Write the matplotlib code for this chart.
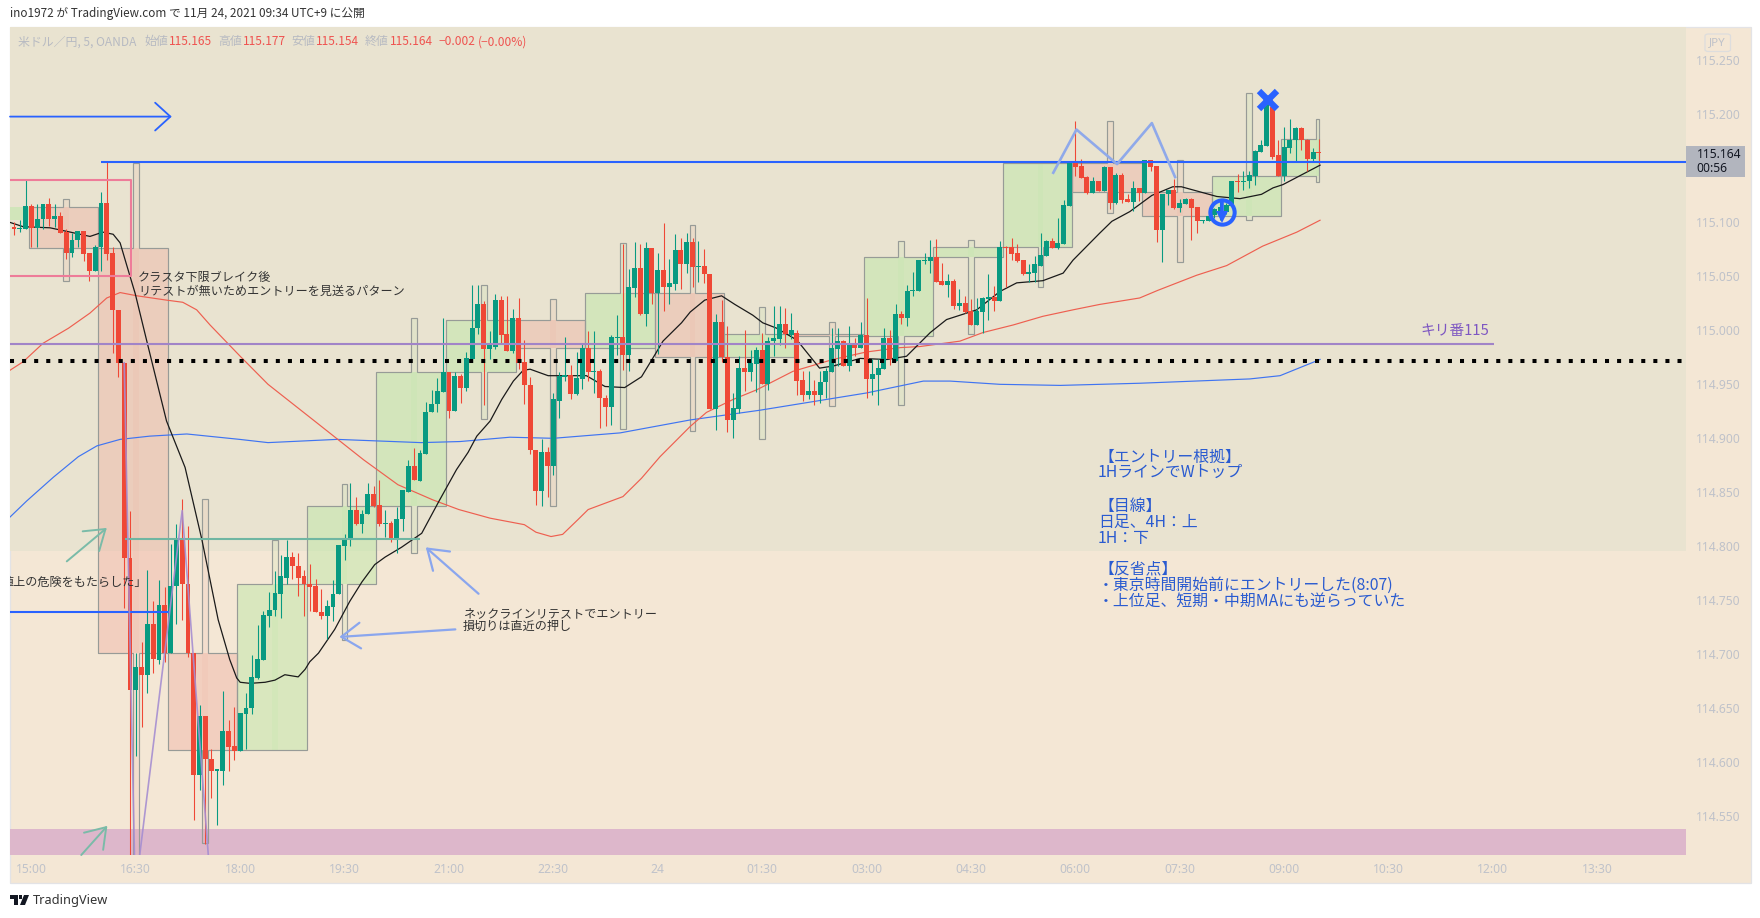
import matplotlib
matplotlib.use("Agg")
import matplotlib.pyplot as plt
from matplotlib.patches import Polygon, Rectangle, FancyBboxPatch

plt.rcParams['font.family'] = ['Noto Sans CJK JP', 'DejaVu Sans']

first_bar = -3
opens = [115.096,115.094,115.094,115.115,115.095,115.103,115.117,115.103,115.106,115.091,
115.072,115.084,115.092,115.072,115.055,115.077,115.118,115.072,115.019,114.970,
114.789,114.667,114.688,114.681,114.728,114.695,114.746,114.701,114.763,114.807,
114.765,114.701,114.588,114.643,114.603,114.592,114.592,114.629,114.615,114.610,
114.645,114.650,114.678,114.695,114.735,114.741,114.756,114.771,114.790,114.782,
114.772,114.765,114.763,114.739,114.735,114.744,114.756,114.800,114.807,114.834,
114.821,114.830,114.848,114.838,114.821,114.822,114.807,114.825,114.850,114.874,
114.860,114.885,114.924,114.932,114.943,114.961,114.925,114.958,114.947,114.973,
115.002,115.024,114.983,114.985,115.028,114.997,114.981,115.011,114.971,114.949,
114.889,114.851,114.887,114.874,114.935,114.957,114.959,114.941,114.955,114.984,
114.961,114.962,114.937,114.929,114.993,114.994,114.977,115.039,115.058,115.015,
115.076,115.035,115.056,115.040,115.043,115.074,115.061,115.082,115.059,115.060,
115.052,114.927,115.008,114.975,114.917,114.927,114.965,114.961,114.969,114.982,
114.950,114.990,114.992,115.006,114.996,114.998,114.954,114.940,114.944,114.940,
114.952,114.961,114.983,114.990,114.967,114.986,114.984,114.996,114.955,114.959,
114.964,114.993,114.972,115.015,115.011,115.036,115.036,115.064,115.064,115.068,
115.046,115.042,115.046,115.023,115.025,115.018,115.005,115.017,115.029,115.031,
115.027,115.077,115.077,115.072,115.065,115.052,115.053,115.060,115.069,115.083,
115.076,115.080,115.115,115.155,115.152,115.142,115.127,115.138,115.129,115.151,
115.118,115.144,115.122,115.119,115.132,115.127,115.158,115.152,115.093,115.126,
115.130,115.113,115.117,115.122,115.114,115.101,115.101,115.107,115.107,115.110,
115.115,115.138,115.137,115.138,115.143,115.165,115.171,115.207,115.162,115.143,
115.169,115.176,115.187,115.176,115.159,115.165]
closes = [115.094,115.095,115.115,115.095,115.103,115.117,115.103,115.106,115.090,115.072,
115.084,115.092,115.071,115.055,115.077,115.118,115.071,115.019,114.970,114.789,
114.667,114.688,114.681,114.728,114.696,114.746,114.701,114.763,114.807,114.765,
114.701,114.588,114.643,114.603,114.592,114.594,114.629,114.614,114.610,114.646,
114.650,114.679,114.696,114.736,114.741,114.757,114.772,114.790,114.782,114.771,
114.765,114.762,114.739,114.735,114.745,114.756,114.801,114.808,114.834,114.821,
114.830,114.848,114.837,114.821,114.822,114.807,114.825,114.852,114.874,114.861,
114.886,114.924,114.932,114.944,114.961,114.925,114.958,114.947,114.974,115.002,
115.024,114.983,114.986,115.028,114.996,114.981,115.011,114.970,114.949,114.889,
114.851,114.887,114.874,114.936,114.958,114.959,114.941,114.956,114.984,114.961,
114.962,114.937,114.929,114.994,114.994,114.977,115.040,115.058,115.015,115.076,
115.035,115.056,115.040,115.044,115.074,115.061,115.082,115.059,115.060,115.052,
114.927,115.008,114.975,114.917,114.928,114.965,114.961,114.970,114.982,114.950,
114.990,114.993,115.006,114.997,115.000,114.953,114.940,114.944,114.940,114.952,
114.962,114.984,114.990,114.967,114.986,114.984,114.996,114.955,114.960,114.965,
114.993,114.973,115.015,115.011,115.036,115.037,115.065,115.065,115.068,115.045,
115.042,115.046,115.023,115.025,115.017,115.005,115.018,115.030,115.031,115.027,
115.077,115.076,115.071,115.064,115.052,115.054,115.061,115.070,115.083,115.076,
115.081,115.116,115.155,115.151,115.141,115.127,115.138,115.129,115.151,115.118,
115.144,115.121,115.119,115.132,115.127,115.158,115.151,115.093,115.126,115.130,
115.113,115.118,115.122,115.113,115.101,115.102,115.106,115.112,115.114,115.116,
115.138,115.137,115.138,115.144,115.166,115.172,115.213,115.161,115.143,115.170,
115.176,115.187,115.176,115.159,115.165,115.164]
highs = [115.100,115.102,115.139,115.117,115.117,115.117,115.123,115.117,115.110,115.094,
115.090,115.092,115.092,115.072,115.079,115.128,115.156,115.077,115.019,114.970,
114.833,114.701,114.711,114.778,114.749,114.769,114.762,114.802,114.821,114.844,
114.819,114.701,114.653,114.643,114.612,114.594,114.666,114.639,114.651,114.646,
114.664,114.699,114.727,114.740,114.758,114.777,114.792,114.806,114.795,114.794,
114.778,114.784,114.770,114.760,114.750,114.769,114.801,114.811,114.859,114.846,
114.834,114.859,114.856,114.861,114.834,114.823,114.836,114.852,114.880,114.891,
114.889,114.934,114.945,114.956,115.011,114.961,114.961,114.960,114.980,115.042,
115.042,115.027,114.999,115.034,115.032,115.032,115.020,115.030,114.991,114.957,
114.889,114.899,114.892,114.942,114.961,114.994,114.968,114.980,114.987,114.999,
114.999,114.964,114.940,114.996,115.014,115.080,115.057,115.082,115.080,115.082,
115.076,115.072,115.099,115.066,115.089,115.086,115.090,115.086,115.083,115.075,
115.052,115.015,115.028,115.004,114.942,114.976,115.000,114.982,114.985,114.998,
114.994,115.023,115.023,115.021,115.016,115.000,114.962,114.962,114.954,114.962,
114.965,115.002,115.002,114.991,115.004,114.993,115.008,115.030,114.973,114.973,
115.002,115.000,115.024,115.018,115.042,115.054,115.065,115.072,115.084,115.085,
115.062,115.052,115.048,115.038,115.032,115.029,115.030,115.031,115.052,115.041,
115.083,115.078,115.086,115.080,115.065,115.061,115.069,115.090,115.084,115.086,
115.104,115.121,115.155,115.194,115.159,115.143,115.142,115.138,115.152,115.151,
115.146,115.146,115.126,115.138,115.132,115.158,115.158,115.152,115.126,115.130,
115.140,115.122,115.123,115.123,115.114,115.102,115.109,115.113,115.121,115.118,
115.138,115.145,115.148,115.148,115.167,115.176,115.217,115.213,115.176,115.188,
115.196,115.188,115.188,115.177,115.169,115.177]
lows = [115.088,115.091,115.094,115.077,115.077,115.094,115.097,115.096,115.090,115.066,
115.068,115.077,115.064,115.046,115.055,115.055,115.065,114.979,114.957,114.743,
114.470,114.606,114.633,114.664,114.683,114.691,114.693,114.701,114.728,114.732,
114.697,114.546,114.574,114.524,114.567,114.542,114.579,114.592,114.602,114.610,
114.612,114.645,114.677,114.695,114.725,114.735,114.734,114.765,114.770,114.754,
114.735,114.740,114.739,114.733,114.714,114.731,114.756,114.787,114.800,114.820,
114.812,114.830,114.836,114.819,114.809,114.804,114.794,114.814,114.850,114.861,
114.860,114.885,114.924,114.924,114.943,114.919,114.925,114.933,114.944,114.971,
114.997,114.931,114.973,114.983,114.987,114.981,114.979,114.964,114.932,114.885,
114.838,114.837,114.846,114.866,114.919,114.953,114.936,114.940,114.946,114.953,
114.942,114.910,114.911,114.912,114.977,114.963,114.962,115.031,115.014,115.004,
115.024,114.978,115.018,115.024,115.037,115.038,115.053,115.040,115.045,115.044,
114.927,114.908,114.971,114.906,114.900,114.923,114.944,114.953,114.943,114.950,
114.945,114.976,114.986,114.984,114.992,114.940,114.935,114.936,114.931,114.933,
114.937,114.961,114.967,114.967,114.962,114.976,114.984,114.937,114.940,114.931,
114.964,114.968,114.972,115.006,115.004,115.032,115.036,115.061,115.053,115.045,
115.042,115.031,115.020,115.019,115.016,115.005,115.005,114.998,115.010,115.018,
115.027,115.040,115.065,115.063,115.051,115.045,115.045,115.060,115.069,115.076,
115.075,115.080,115.115,115.143,115.141,115.126,115.127,115.129,115.129,115.112,
115.117,115.118,115.119,115.111,115.120,115.127,115.148,115.082,115.063,115.116,
115.112,115.110,115.117,115.084,115.090,115.099,115.101,115.104,115.102,115.108,
115.115,115.128,115.130,115.132,115.135,115.165,115.171,115.159,115.143,115.138,
115.164,115.157,115.167,115.148,115.156,115.154]

ma_black_x = [-3.7,-1.4,3.2,6.7,10.1,12.3,14.1,15.3,16.4,17.9,19.9,21,23.3,26.5,29.4,32.2,34.2,35.4,36,37.7,40.3,42,43.7,46,47.2,48,49.5,52.3,54.9,57,59.2,61,63.8,67.3,70.2,73.3,75.3,76.8,79.1,81.1,83.1,84.8,86,89.1,92.9,95.7,98.9,102.3,105.2,107.8,108.9,112.1,113.6,116.1,119,121.3,124.4,126.1,128.5,132,135.9,138.3,142.9,147.5,150.9,155,157.8,163,167,169.9,174.4,177.9,179.6,184.2,186.3,189.4,193.2,196.8,198.3,204.4,208.4,212.1,214.1,215.8,222.2]
ma_black_y = [115.100,115.096,115.095,115.091,115.087,115.091,115.089,115.081,115.061,115.034,114.990,114.966,114.916,114.873,114.806,114.732,114.695,114.678,114.674,114.673,114.674,114.676,114.681,114.679,114.686,114.693,114.701,114.723,114.749,114.767,114.783,114.790,114.799,114.812,114.841,114.871,114.887,114.902,114.916,114.936,114.953,114.963,114.964,114.958,114.958,114.958,114.948,114.947,114.957,114.980,114.990,115.007,115.017,115.028,115.032,115.024,115.014,115.007,115.002,114.991,114.965,114.967,114.974,114.973,114.976,114.998,115.010,115.019,115.036,115.044,115.046,115.053,115.065,115.090,115.101,115.110,115.125,115.133,115.133,115.124,115.122,115.126,115.132,115.135,115.153]
ma_red_x = [-3.7,-1.4,2,6.4,10.1,13,15.3,18.2,23.3,26.1,28.5,30.8,36,40.8,49.3,57.3,63.2,69.2,73.7,79.1,85,87,89.6,91.6,94.3,96,102,105.2,108.4,113.6,116.4,121,125.1,131.3,138.2,144,149.8,153.2,160.1,164.1,169.3,174.4,179.6,184.2,191.1,194.2,200.9,206.1,212.3,218.2,222.2]
ma_red_y = [114.963,114.971,114.988,115.002,115.016,115.030,115.035,115.032,115.028,115.026,115.019,115.005,114.976,114.950,114.914,114.880,114.857,114.843,114.834,114.826,114.820,114.813,114.809,114.811,114.825,114.834,114.846,114.863,114.883,114.911,114.924,114.936,114.945,114.962,114.973,114.980,114.984,114.985,114.990,114.998,115.005,115.013,115.019,115.024,115.030,115.037,115.051,115.060,115.078,115.091,115.102]
ma_blue_x = [-3.7,-0.8,3.8,8.1,11.3,15.3,20.4,26.8,35.9,40.8,52.7,67.2,73.9,82.5,90,101.5,113.6,125.6,144,153.8,158.4,167,177.4,191.1,210.1,215.3,222.2]
ma_blue_y = [114.827,114.842,114.864,114.883,114.893,114.899,114.902,114.904,114.899,114.896,114.899,114.896,114.897,114.901,114.900,114.905,114.917,114.926,114.942,114.953,114.953,114.950,114.949,114.951,114.955,114.958,114.973]

cl_left = [-0.5,11.5,23.5,35.5,47.5,59.5,71.5,83.5,95.5,107.5,119.5,131.5,143.5,155.5,167.5,179.5,191.5,203.5,215.5]
cl_right = [11.5,23.5,35.5,47.5,59.5,71.5,83.5,95.5,107.5,119.5,131.5,143.5,155.5,167.5,179.5,191.5,203.5,215.5,222]
cl_spike = [6,18,30,42,54,66,78,90,102,114,126,138,150,162,174,186,198,210,222]
cl_top = [115.114,115.076,114.701,114.765,114.837,114.961,115.010,115.010,115.035,115.035,114.997,114.997,115.068,115.077,115.155,115.155,115.128,115.143,115.177]
cl_bot = [115.076,114.701,114.611,114.611,114.765,114.837,114.961,114.984,114.984,114.975,114.975,114.995,114.995,115.068,115.077,115.128,115.106,115.106,115.143]
cl_up = [115.122,115.155,114.844,114.806,114.858,115.011,115.042,115.029,115.081,115.098,115.022,115.008,115.083,115.084,115.155,115.194,115.158,115.220,115.196]
cl_dn = [115.046,114.400,114.525,114.611,114.713,114.794,114.918,114.837,114.909,114.907,114.899,114.930,114.931,114.997,115.040,115.109,115.063,115.102,115.137]
cl_bull = [0,0,0,1,1,1,1,0,1,0,1,0,1,1,1,0,0,1,1]

tick_bars = [0,18,36,54,72,90,108,126,144,162,180,198,216,234,252,270]
tick_times = ['15:00','16:30','18:00','19:30','21:00','22:30','24','01:30','03:00','04:30','06:00','07:30','09:00','10:30','12:00','13:30']
price_ticks = [115.25,115.20,115.10,115.05,115.00,114.95,114.90,114.85,114.80,114.75,114.70,114.65,114.60,114.55]

W, H = 1760, 918
BEIGE, PEACH = '#E9E3D0', '#F4E7D5'
UP, DOWN = '#089A81', '#EF4836'
GRAYT = '#BFC2CA'
BLUE = '#2962FF'

fig = plt.figure(figsize=(W/100, H/100), dpi=100, facecolor='white')

def R(x0, y0, x1, y1, **k):
    p = Rectangle((x0/W, 1-y1/H), (x1-x0)/W, (y1-y0)/H, transform=fig.transFigure, **k)
    fig.add_artist(p)
    return p

def T(x, y, s, size=9, color='#333333', ha='left', **k):
    return fig.text(x/W, 1-y/H, s, fontsize=size, color=color, ha=ha, va='center', **k)

R(9.5, 26.5, 1750.5, 882.5, facecolor=PEACH, edgecolor='#E3E3E6', lw=0.9, zorder=0)

ax = fig.add_axes([10/W, 1-855/H, 1676/W, 828/H], zorder=2)
ax.patch.set_alpha(0)
xmin, xmax = -3.69, 285.3
ax.set_xlim(xmin, xmax)
ax.set_ylim(114.514, 115.281)
for s in ax.spines.values():
    s.set_visible(False)

ax.axhspan(114.796, 115.281, color=BEIGE, lw=0, zorder=0)
ax.axhspan(114.514, 114.538, color='#DDB7CB', lw=0, zorder=0.5)

# volume clusters
ax.fill_between([xmin, -0.5], 115.102, 115.114, color='#B5E8A0', alpha=.45, lw=0, zorder=1)
for l, r, c, t, b, u, d, bull in zip(cl_left, cl_right, cl_spike, cl_top, cl_bot, cl_up, cl_dn, cl_bull):
    sl, sr = c-.5, min(c+.5, r)
    col = '#B5E8A0' if bull else '#F0AC9E'
    ax.add_patch(Rectangle((l, b), r-l, t-b, facecolor=col, alpha=.42 if bull else .40, lw=0, zorder=1))
    ax.add_patch(Rectangle((sl, d), sr-sl, u-d, facecolor=col, alpha=.14, lw=0, zorder=1))
    pts = [(l,b),(l,t),(sl,t),(sl,u),(sr,u),(sr,t),(r,t),(r,b),(sr,b),(sr,d),(sl,d),(sl,b)]
    ax.add_patch(Polygon(pts, closed=True, fill=False, edgecolor='#979B97', lw=0.85, zorder=1.5))

ax.plot(ma_blue_x, ma_blue_y, color='#3F74F2', lw=0.85, zorder=2)
ax.plot(ma_red_x, ma_red_y, color='#EE5F50', lw=0.85, zorder=2)
ax.plot(ma_black_x, ma_black_y, color='#1A1A1A', lw=0.9, zorder=2)

# candles
xs = [first_bar+i for i in range(len(opens))]
colors = [UP if c >= o else DOWN for o, c in zip(opens, closes)]
ax.vlines(xs, lows, highs, colors=colors, lw=0.78, zorder=3)
ax.bar(xs, [abs(c-o) for o, c in zip(opens, closes)], bottom=[min(o, c) for o, c in zip(opens, closes)],
       width=0.85, color=colors, lw=0, zorder=3.1)

# drawings
ax.hlines(115.156, 12, xmax, color=BLUE, lw=1.5, zorder=4)
ax.hlines(114.739, xmin, 23.8, color=BLUE, lw=1.5, zorder=4)
ax.hlines(114.987, xmin, 252.2, color='#A184C8', lw=1.5, zorder=4)
ax.plot([xmin, xmax], [114.972, 114.972], color='black', lw=2.9, ls=(0, (1, 2)), dash_capstyle='butt', zorder=4)
ax.hlines(114.807, 16.1, 67, color='#6FB6A2', lw=1.5, zorder=4)
ax.plot([xmin, 17.2, 17.2, xmin], [115.139, 115.139, 115.050, 115.050], color='#EE7C99', lw=1.5, zorder=4)
ax.plot([16, 17.9, 26, 30.7], [114.970, 114.480, 114.833, 114.500], color='#A68ED1', lw=1.2, alpha=.9, zorder=4)
ax.plot([176.2, 180.2, 187.2, 193.2, 197.2], [115.146, 115.186, 115.154, 115.192, 115.142], color='#8FA9EA', lw=1.9, zorder=4)

def arrow(x0, y0, x1, y1, c, lw=1.4, hw=.42, hl=.62, ms=22):
    ax.annotate('', xy=(x1, y1), xytext=(x0, y0), zorder=4,
                arrowprops=dict(arrowstyle=f'->,head_length={hl},head_width={hw}', color=c, lw=lw,
                                shrinkA=0, shrinkB=0, mutation_scale=ms))

arrow(xmin, 115.198, 24.2, 115.198, BLUE, lw=1.3, hw=.5, hl=.55, ms=20)
arrow(6.1, 114.786, 13.0, 114.817, '#7ABBA8')
arrow(8.6, 114.514, 13.1, 114.541, '#7ABBA8')
arrow(77.1, 114.756, 68, 114.799, '#8AA6EE', lw=1.6)
arrow(73.1, 114.723, 53.1, 114.716, '#8AA6EE', lw=1.6)

# entry / exit marks
ax.plot([205.3], [115.110], marker='o', ms=17.5, mfc='none', mec=BLUE, mew=2.9, zorder=5, ls='none')
ax.plot([205.3], [115.105], marker='v', ms=8.5, color=BLUE, mew=0, zorder=5, ls='none')
ax.plot([205.3, 205.3], [115.106, 115.119], color=BLUE, lw=2.6, zorder=5, solid_capstyle='butt')
ax.plot([213.2], [115.213], marker='x', ms=13.5, color=BLUE, mew=4.5, zorder=5, ls='none')

# axes
ax.yaxis.tick_right()
ax.set_yticks(price_ticks)
ax.set_yticklabels([f'{v:.3f}' for v in price_ticks], color=GRAYT, fontsize=8.7, family=['Noto Sans', 'DejaVu Sans'])
ax.tick_params(axis='y', length=0, pad=7.5)
ax.set_xticks(tick_bars)
ax.set_xticklabels(tick_times, color=GRAYT, fontsize=8.7, family=['Noto Sans', 'DejaVu Sans'])
ax.tick_params(axis='x', length=0, pad=5.5)

# text
SMALL = 8.7
T(138, 278, 'クラスタ下限ブレイク後', SMALL, zorder=6)
T(138, 291, 'リテストが無いためエントリーを見送るパターン', SMALL, zorder=6)
T(463, 614, 'ネックラインリテストでエントリー', SMALL, zorder=6)
T(463, 626, '損切りは直近の押し', SMALL, zorder=6)
t = ax.text(147/W, 1-582/H, '値上の危険をもたらした」', fontsize=SMALL, color='#333333', ha='right', va='center',
            transform=fig.transFigure, clip_on=True, zorder=6)
T(1420, 331.5, 'キリ番115', 10.6, color='#7E57C2', zorder=6)

note_color = '#2A5BD0'
note_lines = [(457, '【エントリー根拠】'), (472, '1HラインでWトップ'), (506, '【目線】'), (522, '日足、4H：上'),
              (538, '1H：下'), (569, '【反省点】'), (585, '・東京時間開始前にエントリーした(8:07)'),
              (601, '・上位足、短期・中期MAにも逆らっていた')]
for y, s in note_lines:
    T(1098, y, s, 11.4, color=note_color, zorder=6)

T(10, 14, 'ino1972 が TradingView.com で 11月 24, 2021 09:34 UTC+9 に公開', 8.45, color='#333333', zorder=6)
LG = '#B7BAC2'
LR = '#EF5350'
for x, s, c in [(17.6, '米ドル／円, 5, OANDA', LG), (144.7, '始値', LG), (169, '115.165', LR), (218, '高値', LG),
                (243, '115.177', LR), (291.6, '安値', LG), (316, '115.154', LR), (364.7, '終値', LG),
                (389.6, '115.164', LR), (438.6, '−0.002', LR), (478, '(−0.00%)', LR)]:
    T(x, 41.7, s, 8.6, color=c, zorder=6)

# last price label
R(1686, 146, 1745, 177, facecolor='#B2B5BE', edgecolor='none', zorder=5)
T(1696.5, 154.7, '115.164', 8.7, color='#131722', zorder=6, family=['Noto Sans', 'DejaVu Sans'])
T(1696.5, 168.7, '00:56', 8.7, color='#131722', zorder=6, family=['Noto Sans', 'DejaVu Sans'])

# currency badge
fig.add_artist(FancyBboxPatch((1705/W, 1-51.5/H), 25.5/W, 17.5/H, boxstyle='round,pad=0,rounding_size=0.002',
                              transform=fig.transFigure, facecolor='none', edgecolor='#DDDDDD', lw=0.9, zorder=6))
T(1717.7, 42.7, 'JPY', 8.3, color=GRAYT, ha='center', zorder=6, family=['Noto Sans', 'DejaVu Sans'])

# footer
def poly(pts, c='#131722'):
    fig.add_artist(Polygon([(x/W, 1-y/H) for x, y in pts], closed=True, transform=fig.transFigure,
                           facecolor=c, edgecolor='none', zorder=6))
poly([(10, 895), (18, 895), (18, 905), (14, 905), (14, 899), (10, 899)])
poly([(19, 895), (22, 895), (22, 899), (19, 899)])
poly([(24, 895), (29, 895), (25, 905), (20, 905)])
T(33, 900.5, 'TradingView', 9.2, color='#333333', zorder=6, family=['Noto Sans', 'DejaVu Sans'])

fig.savefig('out.png', dpi=100, facecolor='white')
